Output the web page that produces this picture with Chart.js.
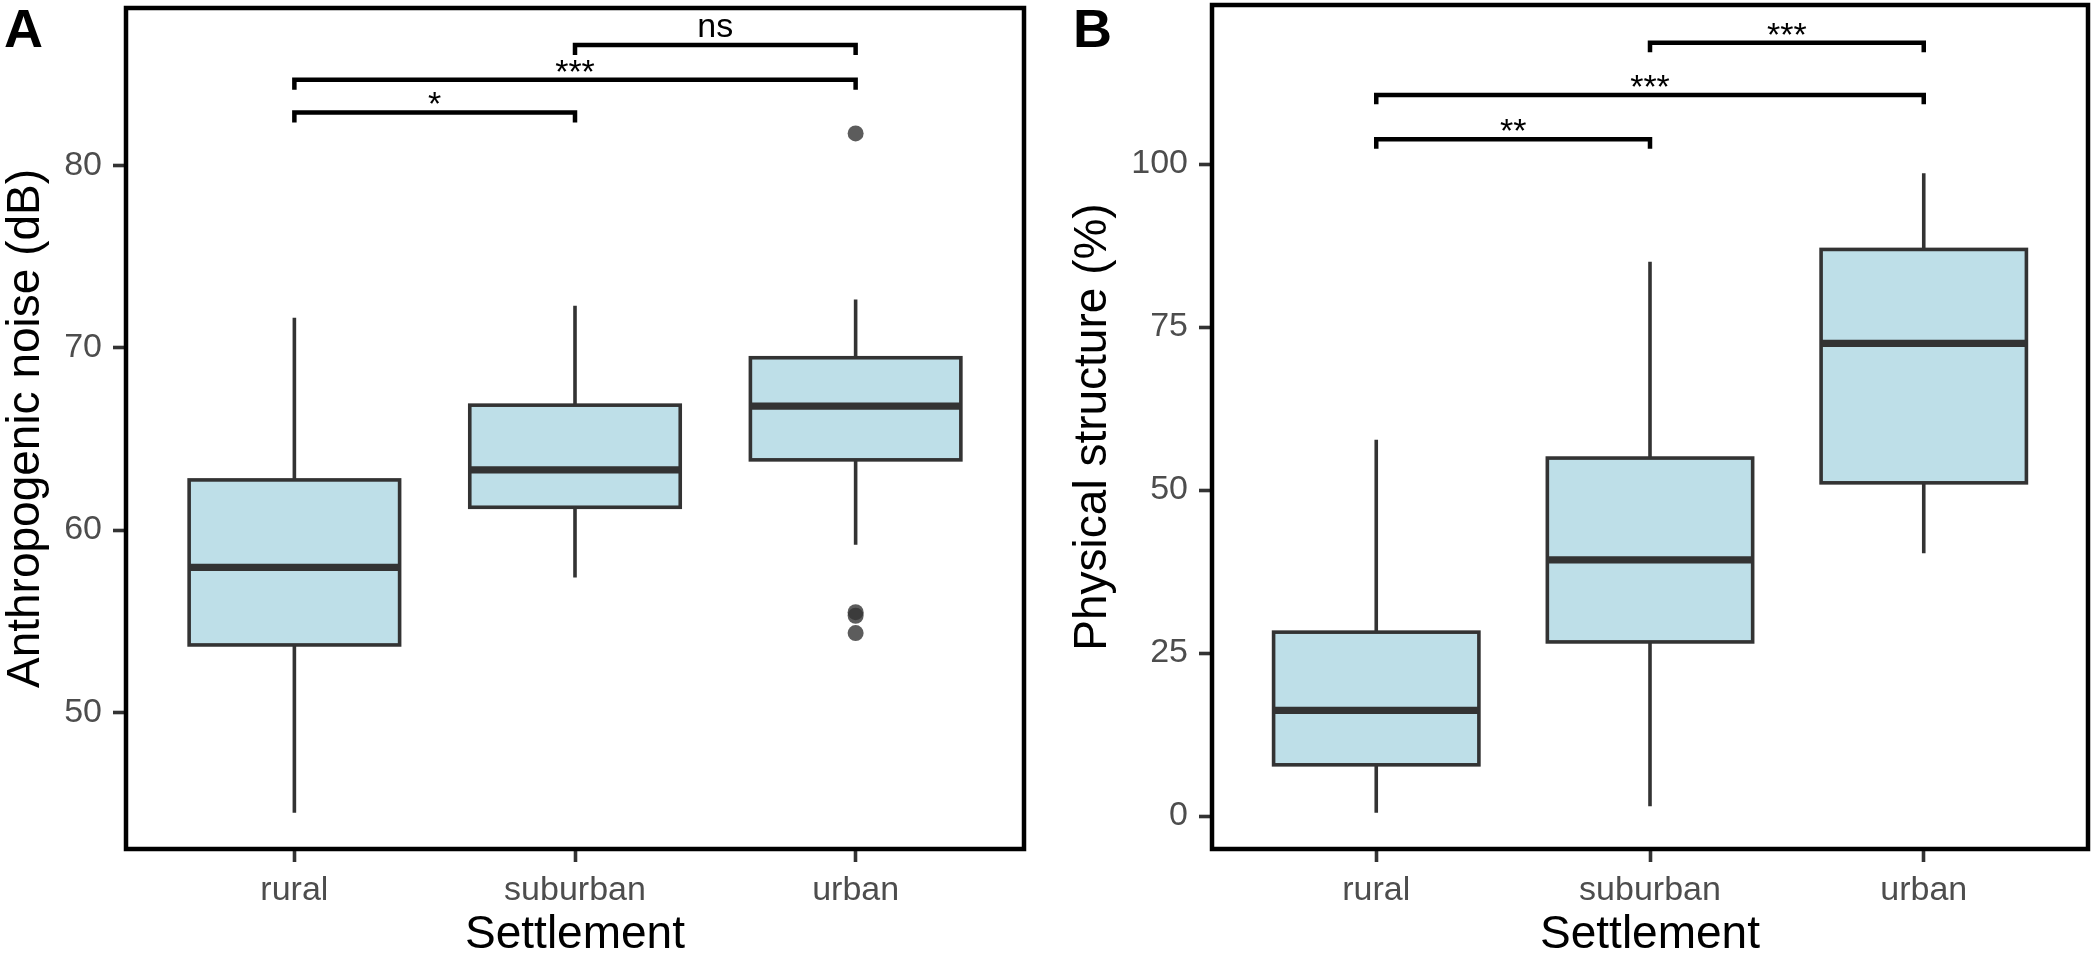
<!DOCTYPE html>
<html><head><meta charset="utf-8">
<script src="https://cdn.jsdelivr.net/npm/chart.js@4.4.1/dist/chart.umd.min.js"></script>
<style>
html,body{margin:0;padding:0;background:#fff;}
#wrap{position:relative;width:2095px;height:958px;overflow:hidden;background:#fff;}
canvas{position:absolute;top:0;}
#cA{left:0;}
#cB{left:1047px;}
</style></head><body>
<div id="wrap"><canvas id="cA" width="1047" height="958"></canvas><canvas id="cB" width="1048" height="958"></canvas></div>
<script>
// ---- data ----
const categories = ['rural', 'suburban', 'urban'];
const catPos = [1, 2, 3];

// Panel A: anthropogenic noise (dB)
const noiseTicks = [50, 60, 70, 80];
const noiseLow = [44.5, 57.4, 59.2];
const noiseQ1 = [53.7, 61.25, 63.85];
const noiseMed = [57.95, 63.3, 66.8];
const noiseQ3 = [62.75, 66.85, 69.45];
const noiseHigh = [71.65, 72.3, 72.65];
const noiseOutlierCat = [3, 3, 3, 3];
const noiseOutlierVal = [81.75, 55.5, 55.3, 54.35];
const noiseSigPairs = [[1, 2], [1, 3], [2, 3]];
const noiseSigY = [82.9, 84.7, 86.6];
const noiseSigLabels = ['*', '***', 'ns'];

// Panel B: physical structure (%)
const structTicks = [0, 25, 50, 75, 100];
const structLow = [0.5, 1.5, 40.3];
const structQ1 = [7.85, 26.7, 51.1];
const structMed = [16.2, 39.3, 72.5];
const structQ3 = [28.2, 54.9, 86.9];
const structHigh = [57.7, 85.0, 98.6];
const structOutlierCat = [];
const structOutlierVal = [];
const structSigPairs = [[1, 2], [1, 3], [2, 3]];
const structSigY = [103.8, 110.6, 118.6];
const structSigLabels = ['**', '***', '***'];

const FONT = "'Liberation Sans', Arial, sans-serif";

const boxPlugin = {
  id: 'boxExtras',
  afterDatasetsDraw(chart, args, o) {
    const {ctx, scales: {y}} = chart;
    const meta = chart.getDatasetMeta(0);
    ctx.save();
    ctx.strokeStyle = '#333333';
    ctx.lineCap = 'butt';
    meta.data.forEach((bar, i) => {
      const p = bar.getProps(['x', 'width'], true);
      const half = p.width / 2;
      const yLo = y.getPixelForValue(o.low[i]);
      const yHi = y.getPixelForValue(o.high[i]);
      const y1 = y.getPixelForValue(o.q1[i]);
      const y3 = y.getPixelForValue(o.q3[i]);
      const ym = y.getPixelForValue(o.med[i]);
      ctx.lineWidth = 3.6;
      ctx.beginPath();
      ctx.moveTo(p.x, yHi); ctx.lineTo(p.x, y3);
      ctx.moveTo(p.x, y1); ctx.lineTo(p.x, yLo);
      ctx.stroke();
      ctx.strokeRect(p.x - half, y3, p.width, y1 - y3);
      ctx.lineWidth = 7.2;
      ctx.beginPath();
      ctx.moveTo(p.x - half, ym); ctx.lineTo(p.x + half, ym);
      ctx.stroke();
    });
    ctx.restore();
  },
  afterDraw(chart, args, o) {
    const {ctx, chartArea: ca, scales: {x, y}} = chart;
    ctx.save();
    // brackets
    ctx.strokeStyle = '#000';
    ctx.fillStyle = '#000';
    ctx.lineWidth = 4.5;
    ctx.lineJoin = 'miter';
    ctx.font = '34px ' + FONT;
    ctx.textAlign = 'center';
    ctx.textBaseline = 'alphabetic';
    o.pairs.forEach((pr, i) => {
      const x1 = x.getPixelForValue(pr[0]);
      const x2 = x.getPixelForValue(pr[1]);
      const yb = y.getPixelForValue(o.sigY[i]);
      const yt = y.getPixelForValue(o.sigY[i] - o.tip);
      ctx.beginPath();
      ctx.moveTo(x1, yt); ctx.lineTo(x1, yb); ctx.lineTo(x2, yb); ctx.lineTo(x2, yt);
      ctx.stroke();
      const m = ctx.measureText(o.labels[i]);
      const desc = m.actualBoundingBoxDescent || 0;
      ctx.fillText(o.labels[i], (x1 + x2) / 2, yb - 8 - desc);
    });
    // panel frame
    ctx.lineWidth = 4.5;
    ctx.strokeRect(ca.left, ca.top, ca.right - ca.left, ca.bottom - ca.top);
    // panel letter
    ctx.font = 'bold 54px ' + FONT;
    ctx.textAlign = 'left';
    ctx.fillText(o.letter, o.letterX, 47);
    ctx.restore();
  }
};

function makeChart(id, c) {
  const tickFont = {family: FONT, size: 34};
  const titleFont = {family: FONT, size: 46, lineHeight: 1};
  const gridOpts = {display: true, drawOnChartArea: false, drawTicks: true, tickLength: 13, offset: false,
                    tickWidth: 3.6, tickColor: '#333333', color: 'rgba(0,0,0,0)'};
  return new Chart(document.getElementById(id), {
    type: 'bar',
    data: {
      datasets: [
        {type: 'bar', data: catPos.map((p, i) => ({x: p, y: [c.q1[i], c.q3[i]]})),
         backgroundColor: '#BEDFE8', borderWidth: 0, grouped: false,
         barPercentage: 0.75, categoryPercentage: 1},
        {type: 'scatter', data: c.outCat.map((p, i) => ({x: p, y: c.outVal[i]})),
         pointRadius: 8, pointHoverRadius: 8, pointBackgroundColor: 'rgba(51,51,51,0.8)',
         pointBorderWidth: 0, pointBorderColor: 'rgba(0,0,0,0)'}
      ]
    },
    options: {
      responsive: false, animation: false, events: [],
      layout: {padding: {left: 0, top: 5, right: c.padRight, bottom: 0}},
      plugins: {
        legend: {display: false}, tooltip: {enabled: false},
        boxExtras: {low: c.low, q1: c.q1, med: c.med, q3: c.q3, high: c.high,
                    pairs: c.pairs, sigY: c.sigY, labels: c.labels, tip: c.tip,
                    letter: c.letter, letterX: c.letterX}
      },
      scales: {
        x: {
          type: 'linear', min: 0.4, max: 3.6, offset: false, bounds: 'ticks',
          afterBuildTicks: s => { s.ticks = catPos.map(v => ({value: v})); },
          afterFit: s => { s.height = 109; s.paddingLeft = 0; s.paddingRight = 0; s.paddingTop = 0; s.paddingBottom = 0; },
          ticks: {callback: v => categories[Math.round(v) - 1], color: '#4D4D4D', font: tickFont,
                  padding: 8, maxRotation: 0, autoSkip: false},
          grid: gridOpts,
          border: {display: false},
          title: {display: true, text: 'Settlement', color: '#000', font: titleFont, padding: 0}
        },
        y: {
          type: 'linear', min: c.yMin, max: c.yMax, offset: false,
          afterBuildTicks: s => { s.ticks = c.ticks.map(v => ({value: v})); },
          afterFit: s => { s.width = c.yWidth; s.paddingTop = 0; s.paddingBottom = 0; s.paddingLeft = 0; s.paddingRight = 0; },
          ticks: {color: '#4D4D4D', font: tickFont, padding: 11},
          grid: gridOpts,
          border: {display: false},
          title: {display: true, text: c.yTitle, color: '#000', font: titleFont,
                  padding: {top: c.yTitlePad, bottom: 0}}
        }
      }
    },
    plugins: [boxPlugin]
  });
}

makeChart('cA', {
  low: noiseLow, q1: noiseQ1, med: noiseMed, q3: noiseQ3, high: noiseHigh,
  outCat: noiseOutlierCat, outVal: noiseOutlierVal,
  pairs: noiseSigPairs, sigY: noiseSigY, labels: noiseSigLabels, tip: 0.55,
  ticks: noiseTicks, yMin: 42.51, yMax: 88.63, yWidth: 126, padRight: 23,
  yTitle: 'Anthropogenic noise (dB)', yTitlePad: 3, letter: 'A', letterX: 4
});
makeChart('cB', {
  low: structLow, q1: structQ1, med: structMed, q3: structQ3, high: structHigh,
  outCat: structOutlierCat, outVal: structOutlierVal,
  pairs: structSigPairs, sigY: structSigY, labels: structSigLabels, tip: 1.45,
  ticks: structTicks, yMin: -5.06, yMax: 124.39, yWidth: 165, padRight: 7,
  yTitle: 'Physical structure (%)', yTitlePad: 23, letter: 'B', letterX: 26
});
</script>
</body></html>
